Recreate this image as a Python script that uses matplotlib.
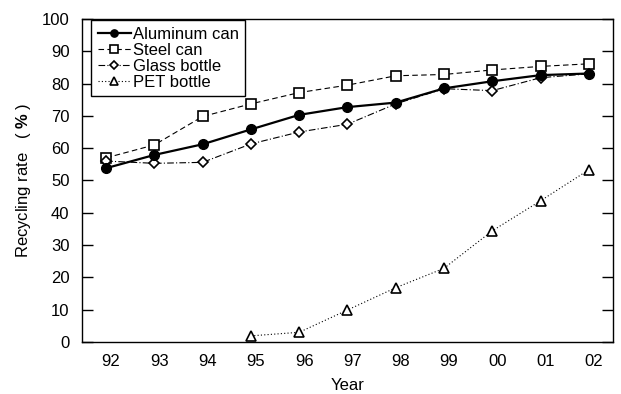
import numpy as np
import matplotlib
matplotlib.use('Agg')
import matplotlib.pyplot as plt
import matplotlib.transforms as mtrans

plt.rcParams['font.family'] = ['Liberation Sans', 'DejaVu Sans']
plt.rcParams['mathtext.fontset'] = 'custom'
plt.rcParams['mathtext.rm'] = 'Liberation Sans'
plt.rcParams['mathtext.bf'] = 'Liberation Sans:bold'

years = ['92', '93', '94', '95', '96', '97', '98', '99', '00', '01', '02']
aluminum = [53.8, 57.9, 61.2, 65.8, 70.3, 72.7, 74.1, 78.5, 80.7, 82.6, 83.1]
steel = [57.0, 61.0, 69.8, 73.7, 77.2, 79.5, 82.4, 82.8, 84.2, 85.3, 86.1]
glass = [56.0, 55.3, 55.6, 61.3, 65.0, 67.4, 73.7, 78.4, 77.8, 81.8, 83.0]
pet_years = ['95', '96', '97', '98', '99', '00', '01', '02']
pet = [1.9, 3.0, 9.9, 16.8, 22.8, 34.4, 43.7, 53.3]

x = np.arange(len(years))
x_pet = np.array([years.index(y) for y in pet_years])

fig = plt.figure(figsize=(6.21, 3.94), dpi=100)
ax = fig.add_axes([0.132, 0.132, 0.855, 0.82])

ax.plot(x, aluminum, 'k-', lw=1.6, marker='o', ms=7, mfc='k', label='Aluminum can', zorder=5)
ax.plot(x, steel, color='k', ls=(0, (5, 3)), lw=0.8, marker='s', ms=7, mfc='white', mew=1.2,
        label='Steel can', zorder=3)
ax.plot(x, glass, color='k', ls=(0, (6, 2, 1, 2)), lw=0.8, marker='D', ms=5, mfc='white', mew=1.2,
        label='Glass bottle', zorder=4)
ax.plot(x_pet, pet, color='k', ls=(0, (1, 2)), lw=0.8, marker='^', ms=7, mfc='white', mew=1.2,
        label='PET bottle', zorder=3)

ax.set_xlim(-0.5, len(years) - 0.5)
ax.set_ylim(0, 100)
ax.set_xticks(x)
ax.set_xticklabels(years)
ax.set_yticks(np.arange(0, 101, 10))
ax.tick_params(axis='y', direction='in', length=8, width=1, right=True, labelsize=12, pad=9)
ax.tick_params(axis='x', length=0, labelsize=12, pad=9)
for s in ax.spines.values():
    s.set_linewidth(1)

# year labels sit a little right of the points in the original
shift = mtrans.ScaledTranslation(5 / 100, 0, fig.dpi_scale_trans)
for lab in ax.get_xticklabels():
    lab.set_transform(lab.get_transform() + shift)

ax.set_xlabel('Year', fontsize=12, labelpad=6)
ax.set_ylabel(r'Recycling rate   ( $\mathbf{\%}$ )', fontsize=12, labelpad=6)

leg = ax.legend(loc='upper left', bbox_to_anchor=(0.017, 0.997), borderaxespad=0,
                fontsize=12, handlelength=2.0, handletextpad=0.1, labelspacing=0.06,
                borderpad=0.4, markerscale=0.75, fancybox=False, framealpha=1)
leg.get_frame().set_edgecolor('k')
leg.get_frame().set_linewidth(1)

fig.savefig('out.png', dpi=100)
